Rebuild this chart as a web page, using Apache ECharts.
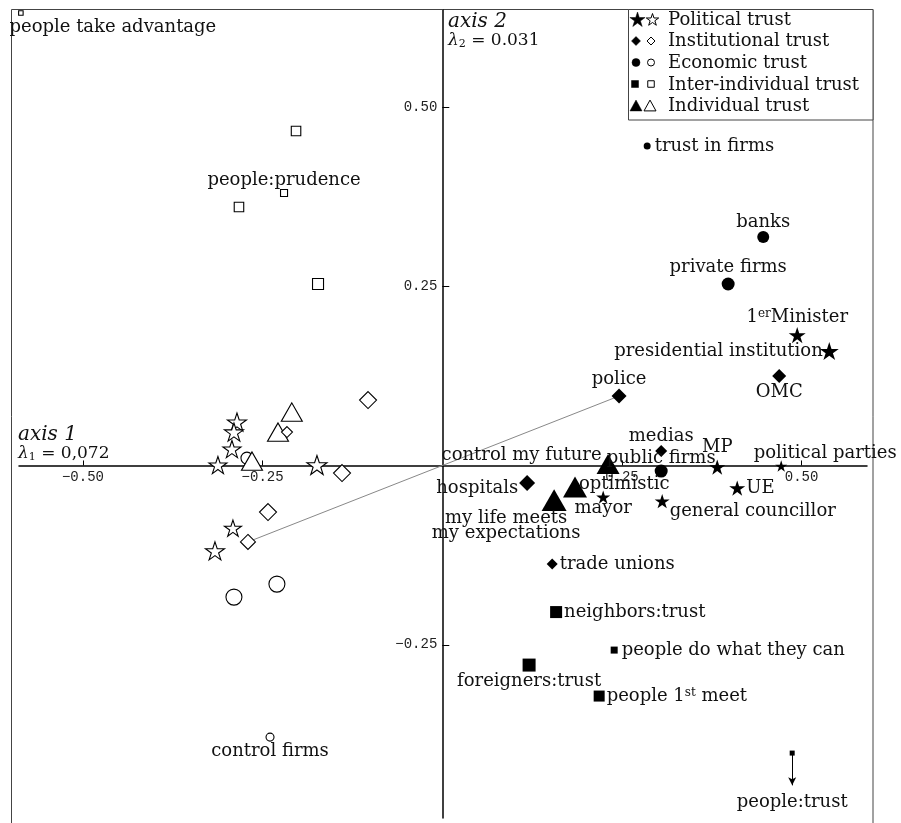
<!DOCTYPE html>
<html><head><meta charset="utf-8">
<script src="https://cdn.jsdelivr.net/npm/echarts@6/dist/echarts.min.js"></script>
<style>html,body{margin:0;padding:0;background:#fff}#c{width:901px;height:823px}</style>
</head><body><div id="c"></div>
<script>
// ---------------- data ----------------
const xTicks = [-0.50, -0.25, 0.25, 0.50];
const yTicks = [-0.25, 0.25, 0.50];
const categories = ['Political trust', 'Institutional trust', 'Economic trust', 'Inter-individual trust', 'Individual trust'];
const axisNames = { x: 'axis 1', xInertia: '0,072', y: 'axis 2', yInertia: '0.031' };

// each point: [axis 1, axis 2, relative weight, label]
const politicalFilled = [
  [0.4939, 0.1818, 1.7, '1^{er}Minister'],
  [0.5385, 0.1595, 1.9, 'presidential institution'],
  [0.3826, -0.0022, 1.6, 'MP'],
  [0.4716, -0.0008, 1.2, 'political parties'],
  [0.4104, -0.0315, 1.6, 'UE'],
  [0.3060, -0.0497, 1.5, 'general councillor'],
  [0.2239, -0.0441, 1.4, 'mayor']
];
const politicalOpen = [
  [-0.2857, 0.0605, 1.9, ''],
  [-0.2899, 0.0466, 1.9, ''],
  [-0.2927, 0.0229, 1.8, ''],
  [-0.3122, 0.0006, 1.8, ''],
  [-0.1744, 0.0006, 2.0, ''],
  [-0.2913, -0.0874, 1.7, ''],
  [-0.3163, -0.1191, 1.9, '']
];
const institutionalFilled = [
  [0.4688, 0.1248, 1.4, 'OMC'],
  [0.2460, 0.0968, 1.5, 'police'],
  [0.3046, 0.0201, 1.2, 'medias'],
  [0.1181, -0.0246, 1.6, 'hospitals'],
  [0.1529, -0.1375, 1.1, 'trade unions']
];
const institutionalOpen = [
  [-0.1033, 0.0912, 1.7, ''],
  [-0.2161, 0.0466, 1.1, ''],
  [-0.1395, -0.0106, 1.7, ''],
  [-0.2425, -0.0650, 1.7, ''],
  [-0.2704, -0.1066, 1.5, '']
];
const economicFilled = [
  [0.2851, 0.4455, 0.7, 'trust in firms'],
  [0.4466, 0.3185, 1.2, 'banks'],
  [0.3978, 0.2530, 1.3, 'private firms'],
  [0.3046, -0.0078, 1.3, 'public firms']
];
const economicOpen = [
  [-0.2718, 0.0103, 1.2, ''],
  [-0.2301, -0.1654, 1.6, ''],
  [-0.2899, -0.1835, 1.6, ''],
  [-0.2397, -0.3787, 0.8, 'control firms']
];
const interFilled = [
  [0.1584, -0.2044, 1.2, 'neighbors:trust'],
  [0.2392, -0.2574, 0.7, 'people do what they can'],
  [0.1208, -0.2783, 1.3, 'foreigners:trust'],
  [0.2183, -0.3215, 1.1, 'people 1^{st} meet'],
  [0.4869, -0.4010, 0.5, 'people:trust']
];
const interOpen = [
  [-0.5864, 0.6309, 0.45, 'people take advantage'],
  [-0.2035, 0.4664, 0.95, ''],
  [-0.2202, 0.3799, 0.7, 'people:prudence'],
  [-0.2829, 0.3603, 0.95, ''],
  [-0.1729, 0.2529, 1.1, '']
];
const individualFilled = [
  [0.2307, 0.0020, 2.3, 'control my future'],
  [0.1847, -0.0301, 2.4, 'optimistic'],
  [0.1556, -0.0483, 2.5, 'my life meets\nmy expectations']
];
const individualOpen = [
  [-0.2094, 0.0745, 2.1, ''],
  [-0.2286, 0.0466, 2.1, ''],
  [-0.2648, 0.0061, 2.1, '']
];
// segment joining two category points (open institutional #5 and "police")
const connector = [institutionalOpen[4], institutionalFilled[1]];

// ---------------- layout / styles ----------------
const X_RANGE = [-0.589, 0.591];
const Y_RANGE = [-0.4915, 0.635];
const GRID = { left: 19, right: 34, top: 10, bottom: 5 };
const W = 901, H = 823;
const gridW = W - GRID.left - GRID.right, gridH = H - GRID.top - GRID.bottom;
// move axes onto the zero lines
const xAxisOffset = -gridH * (0 - Y_RANGE[0]) / (Y_RANGE[1] - Y_RANGE[0]);
const yAxisOffset = -gridW * (0 - X_RANGE[0]) / (X_RANGE[1] - X_RANGE[0]);

const FONT = '"DejaVu Serif"';
const TXT = '#111';
const sizeUnit = 10;
const STAR = 'path://M100,0L122.45,69.1L195.1,69.1L136.3,111.8L158.8,180.9L100,138.2L41.2,180.9L63.7,111.8L4.9,69.1L77.55,69.1Z';
const symbolOf = { star: STAR, diamond: 'diamond', circle: 'circle', rect: 'rect', triangle: 'triangle' };

const labelStyle = {
  '1^{er}Minister': { position: 'top', distance: 1 },
  'presidential institution': { position: 'left', distance: -3 },
  'MP': { position: 'top', distance: 3 },
  'political parties': { position: 'top', distance: -2, offset: [44, 0] },
  'UE': { position: 'right', distance: 1 },
  'general councillor': { position: 'right', distance: 0, offset: [0, 10] },
  'mayor': { position: 'bottom', distance: -4 },
  'OMC': { position: 'bottom', distance: 0 },
  'police': { position: 'top', distance: 0 },
  'medias': { position: 'top', distance: 0 },
  'hospitals': { position: 'left', distance: 1, offset: [0, 5] },
  'trade unions': { position: 'right', distance: 2 },
  'trust in firms': { position: 'right', distance: 4 },
  'banks': { position: 'top', distance: 0 },
  'private firms': { position: 'top', distance: 1 },
  'public firms': { position: 'top', distance: -3 },
  'control firms': { position: 'bottom', distance: 1 },
  'neighbors:trust': { position: 'right', distance: 2 },
  'people do what they can': { position: 'right', distance: 4 },
  'foreigners:trust': { position: 'bottom', distance: 1 },
  'people 1^{st} meet': { position: 'right', distance: 2 },
  'people:trust': { position: 'bottom', distance: 38 },
  'people take advantage': { position: 'bottom', distance: 3, offset: [92, 0] },
  'people:prudence': { position: 'top', distance: 0 },
  'control my future': { position: 'left', distance: -5, offset: [0, -9] },
  'optimistic': { position: 'right', distance: -8, offset: [0, -3] },
  'my life meets\nmy expectations': { position: 'bottom', distance: 0, offset: [-48, 0], lineHeight: 15 }
};

function richify(s) { return s.replace(/\^\{(.*?)\}/g, '{sup|$1}'); }

function makeItems(points, shape) {
  return points.map(p => {
    const s = p[2] * sizeUnit;
    const item = { value: [p[0], p[1]], name: p[3], symbolSize: shape === 'triangle' ? [s, s * 0.87] : s };
    if (p[3]) item.label = Object.assign({ show: true }, labelStyle[p[3]] || { position: 'right' });
    return item;
  });
}

function scatter(name, points, shape, filled, extra) {
  return Object.assign({
    type: 'scatter', name: name, symbol: symbolOf[shape], symbolKeepAspect: true,
    data: makeItems(points, shape), silent: true,
    itemStyle: filled ? { color: '#000', opacity: 1 } : { color: '#fff', borderColor: '#000', borderWidth: 1.1, opacity: 1 },
    label: {
      show: false, fontFamily: FONT, fontSize: 18, color: TXT,
      formatter: prm => richify(prm.name),
      rich: { sup: { fontFamily: FONT, fontSize: 12, color: TXT, verticalAlign: 'top' } }
    },
    emphasis: { disabled: true }
  }, extra || {});
}

const fmt = v => (v < 0 ? '\u2212' : '') + Math.abs(v).toFixed(2);

// legend (graphic)
function starPts(cx, cy, R) {
  const pts = [];
  for (let i = 0; i < 10; i++) {
    const r = i % 2 ? R * 0.382 : R, a = -Math.PI / 2 + i * Math.PI / 5;
    pts.push([cx + r * Math.cos(a), cy + r * Math.sin(a)]);
  }
  return pts;
}
function icon(shape, filled, cx, cy, s) {
  const style = filled ? { fill: '#000', stroke: '#000', lineWidth: 0.5 } : { fill: '#fff', stroke: '#000', lineWidth: 1 };
  if (shape === 'star') return { type: 'polygon', shape: { points: starPts(cx, cy + 0.5, s / 2) }, style };
  if (shape === 'diamond') return { type: 'polygon', shape: { points: [[cx, cy - s / 2], [cx + s / 2, cy], [cx, cy + s / 2], [cx - s / 2, cy]] }, style };
  if (shape === 'circle') return { type: 'circle', shape: { cx, cy, r: s / 2 }, style };
  if (shape === 'rect') return { type: 'rect', shape: { x: cx - s / 2, y: cy - s / 2, width: s, height: s }, style };
  return { type: 'polygon', shape: { points: [[cx, cy - s * 0.45], [cx + s / 2, cy + s * 0.45], [cx - s / 2, cy + s * 0.45]] }, style };
}
const legendShapes = ['star', 'diamond', 'circle', 'rect', 'triangle'];
const legendIconY = [19.5, 41, 62.5, 84, 105.5];
const legendTextY = [20, 41.5, 63.5, 85, 106.5];
const legendFilledX = [637.5, 636, 636, 635, 636];
const legendOpenX = [652.5, 651, 651, 651, 650];
const legendFilledS = [16, 9, 8, 7, 12];
const legendOpenS = [13, 8, 7, 6.5, 12];

const graphics = [
  { type: 'rect', z: 0, silent: true, shape: { x: 11.5, y: 9.5, width: 861.5, height: 840 }, style: { fill: 'transparent', stroke: '#444', lineWidth: 1 } },
  { type: 'rect', z: 50, silent: true, shape: { x: 628.5, y: 9.5, width: 244.5, height: 110.5 }, style: { fill: '#fff', stroke: '#444', lineWidth: 1 } },
  { type: 'text', z: 50, x: 18, y: 435, style: { text: axisNames.x, fontFamily: FONT, fontStyle: 'italic', fontSize: 20, fill: TXT, verticalAlign: 'middle' } },
  { type: 'text', z: 50, x: 18, y: 454, style: { text: '{l|λ}{sub|1} = ' + axisNames.xInertia, fontFamily: FONT, fontSize: 17, fill: TXT, verticalAlign: 'middle',
      rich: { l: { fontFamily: FONT, fontStyle: 'italic', fontSize: 17, fill: TXT }, sub: { fontFamily: FONT, fontSize: 11, fill: TXT, verticalAlign: 'bottom' } } } },
  { type: 'text', z: 50, x: 448, y: 22, style: { text: axisNames.y, fontFamily: FONT, fontStyle: 'italic', fontSize: 20, fill: TXT, verticalAlign: 'middle' } },
  { type: 'text', z: 50, x: 448, y: 41, style: { text: '{l|λ}{sub|2} = ' + axisNames.yInertia, fontFamily: FONT, fontSize: 17, fill: TXT, verticalAlign: 'middle',
      rich: { l: { fontFamily: FONT, fontStyle: 'italic', fontSize: 17, fill: TXT }, sub: { fontFamily: FONT, fontSize: 11, fill: TXT, verticalAlign: 'bottom' } } } }
];
categories.forEach((c, i) => {
  const sh = legendShapes[i];
  const a = icon(sh, true, legendFilledX[i], legendIconY[i], legendFilledS[i]);
  const b = icon(sh, false, legendOpenX[i], legendIconY[i], legendOpenS[i]);
  a.z = 51; b.z = 51; a.silent = true; b.silent = true;
  graphics.push(a, b);
  graphics.push({ type: 'text', z: 51, silent: true, x: 668, y: legendTextY[i], style: { text: c, fontFamily: FONT, fontSize: 18, fill: TXT, verticalAlign: 'middle' } });
});

const peopleTrust = interFilled[4];

const option = {
  animation: false,
  backgroundColor: '#fff',
  grid: Object.assign({ containLabel: false, outerBoundsMode: 'none' }, GRID),
  xAxis: {
    type: 'value', min: X_RANGE[0], max: X_RANGE[1], position: 'bottom', offset: xAxisOffset,
    axisLine: { onZero: false, lineStyle: { color: '#000', width: 1.5 } },
    axisTick: { inside: true, length: 5, customValues: xTicks, lineStyle: { color: '#000', width: 1 } },
    axisLabel: { customValues: xTicks, formatter: fmt, margin: 5, fontFamily: '"Liberation Mono"', fontSize: 14, color: '#222' },
    splitLine: { show: false }
  },
  yAxis: {
    type: 'value', min: Y_RANGE[0], max: Y_RANGE[1], position: 'left', offset: yAxisOffset,
    axisLine: { onZero: false, lineStyle: { color: '#000', width: 1.5 } },
    axisTick: { inside: true, length: 7, customValues: yTicks, lineStyle: { color: '#000', width: 1 } },
    axisLabel: { customValues: yTicks, formatter: fmt, margin: 5, fontFamily: '"Liberation Mono"', fontSize: 14, color: '#222' },
    splitLine: { show: false }
  },
  graphic: graphics,
  series: [
    { type: 'line', data: connector.map(p => [p[0], p[1]]), symbol: 'none', silent: true, z: 1,
      lineStyle: { color: '#888', width: 1 } },
    scatter('Economic trust', economicOpen, 'circle', false),
    scatter('Economic trust', economicFilled, 'circle', true),
    scatter('Individual trust', individualOpen, 'triangle', false),
    scatter('Institutional trust', institutionalOpen, 'diamond', false),
    scatter('Political trust', politicalOpen, 'star', false),
    scatter('Inter-individual trust', interOpen, 'rect', false),
    scatter('Institutional trust', institutionalFilled, 'diamond', true),
    scatter('Political trust', politicalFilled, 'star', true),
    scatter('Inter-individual trust', interFilled, 'rect', true, {
      markLine: {
        silent: true, symbol: ['none', 'arrow'], symbolSize: [6, 8],
        lineStyle: { color: '#000', width: 1, type: 'solid' }, label: { show: false },
        data: [[{ coord: [peopleTrust[0], peopleTrust[1]] }, { coord: [peopleTrust[0], peopleTrust[1] - 0.045] }]]
      }
    }),
    scatter('Individual trust', individualFilled, 'triangle', true)
  ]
};

const chart = echarts.init(document.getElementById('c'), null, { renderer: 'canvas' });
chart.setOption(option);
</script>
</body></html>
